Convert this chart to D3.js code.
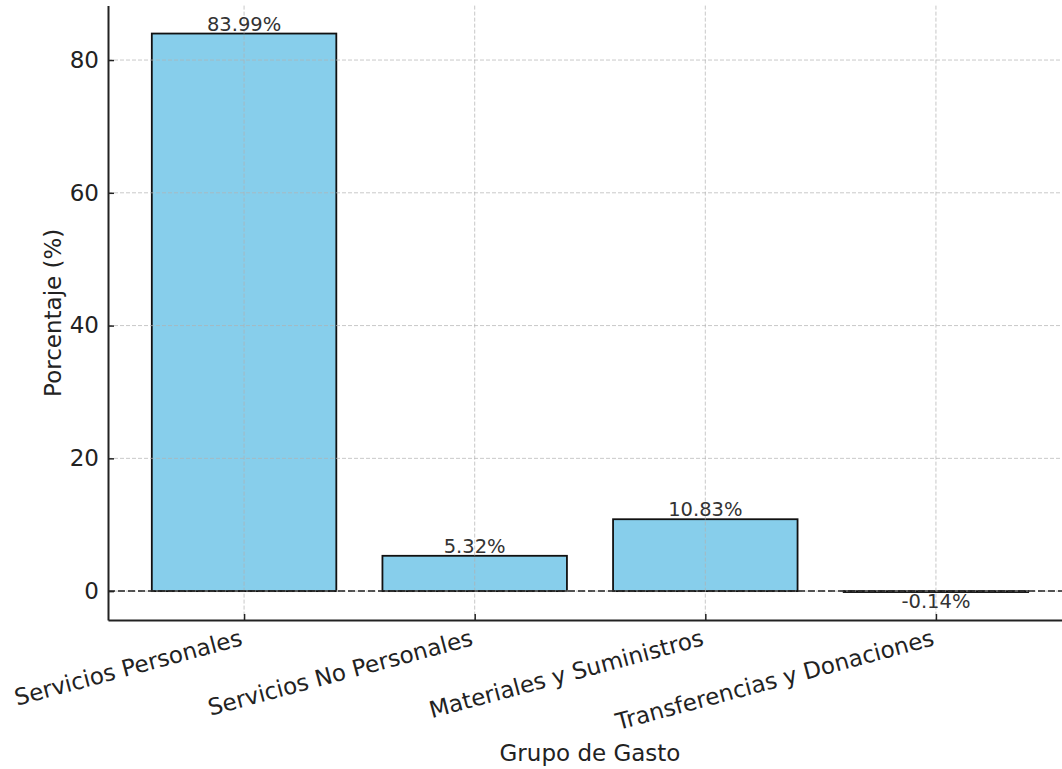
<!DOCTYPE html>
<html>
<head>
<meta charset="utf-8">
<script src="https://cdn.jsdelivr.net/npm/d3@7.9.0/dist/d3.min.js"></script>
<style>
  body { margin: 0; background: #fff; }
  svg { display: block; font-family: 'DejaVu Sans', sans-serif; }
</style>
</head>
<body>
<svg width="1062" height="769"></svg>
<script>
const categories = ['Servicios Personales', 'Servicios No Personales', 'Materiales y Suministros', 'Transferencias y Donaciones'];
const percentages = [83.99, 5.32, 10.83, -0.14];
const yTicks = [0, 20, 40, 60, 80];

const svg = d3.select('svg');

// axes frame (the picture is cropped on the right and the top)
const plotLeft = 108, plotRight = 1072, plotTop = 5.6, plotBottom = 620;

const x = d3.scaleLinear().domain([-0.59, 3.59]).range([plotLeft, plotRight]);
const y = d3.scaleLinear().domain([-4.35, 88.2]).range([plotBottom, plotTop]);
const barW = x(0.8) - x(0);

// bars
svg.append('g')
  .selectAll('rect')
  .data(percentages)
  .join('rect')
  .attr('x', (d, i) => x(i) - barW / 2)
  .attr('y', d => y(Math.max(d, 0)))
  .attr('width', barW)
  .attr('height', d => Math.abs(y(d) - y(0)))
  .attr('fill', '#87CEEB')
  .attr('stroke', '#111')
  .attr('stroke-width', 1.8);

// grid on top of bars
const grid = svg.append('g')
  .attr('stroke', '#b0b0b0')
  .attr('stroke-opacity', 0.7)
  .attr('stroke-dasharray', '4,2')
  .attr('stroke-width', 1);
grid.selectAll('.gy').data(yTicks).join('line')
  .attr('x1', plotLeft).attr('x2', plotRight)
  .attr('y1', d => y(d)).attr('y2', d => y(d));
grid.selectAll('.gx').data(categories).join('line')
  .attr('x1', (d, i) => x(i)).attr('x2', (d, i) => x(i))
  .attr('y1', plotTop).attr('y2', plotBottom);

// zero reference line
svg.append('line')
  .attr('x1', plotLeft).attr('x2', plotRight)
  .attr('y1', y(0)).attr('y2', y(0))
  .attr('stroke', '#222')
  .attr('stroke-width', 1.5)
  .attr('stroke-dasharray', '7,3');

// value labels
svg.append('g')
  .selectAll('text')
  .data(percentages)
  .join('text')
  .attr('x', (d, i) => x(i))
  .attr('y', d => d >= 0 ? y(d) - 3 : y(d) + 1)
  .attr('dy', d => d >= 0 ? 0 : '0.76em')
  .attr('text-anchor', 'middle')
  .attr('font-size', 19.5)
  .attr('fill', '#333')
  .text(d => d.toFixed(2) + '%');

// y axis
const yAxis = svg.append('g')
  .attr('transform', `translate(${plotLeft},0)`)
  .call(d3.axisLeft(y).tickValues(yTicks).tickSizeInner(-6).tickSizeOuter(0).tickPadding(9));
yAxis.select('.domain').attr('stroke', '#222').attr('stroke-width', 2);
yAxis.selectAll('.tick line').attr('stroke', '#222').attr('stroke-width', 1.5);
yAxis.selectAll('.tick text').attr('font-size', 23).attr('fill', '#222')
  .attr('font-family', "'DejaVu Sans', sans-serif");

// x axis
const xAxis = svg.append('g')
  .attr('transform', `translate(0,${plotBottom})`)
  .call(d3.axisBottom(x).tickValues(d3.range(categories.length))
    .tickFormat(i => categories[i]).tickSizeInner(-6).tickSizeOuter(0));
xAxis.select('.domain').attr('stroke', '#222').attr('stroke-width', 2);
xAxis.selectAll('.tick line').attr('stroke', '#222').attr('stroke-width', 1.5);
xAxis.selectAll('.tick text')
  .attr('font-size', 23).attr('fill', '#222')
  .attr('font-family', "'DejaVu Sans', sans-serif")
  .attr('text-anchor', 'end')
  .attr('y', 0).attr('dy', 0)
  .attr('transform', 'translate(-1,25) rotate(-15)');

// axis titles
svg.append('text')
  .attr('x', (plotLeft + plotRight) / 2).attr('y', 761)
  .attr('text-anchor', 'middle')
  .attr('font-size', 23).attr('fill', '#222')
  .text('Grupo de Gasto');

svg.append('text')
  .attr('transform', `translate(61,${(plotTop + plotBottom) / 2}) rotate(-90)`)
  .attr('text-anchor', 'middle')
  .attr('font-size', 23).attr('fill', '#222')
  .text('Porcentaje (%)');
</script>
</body>
</html>
